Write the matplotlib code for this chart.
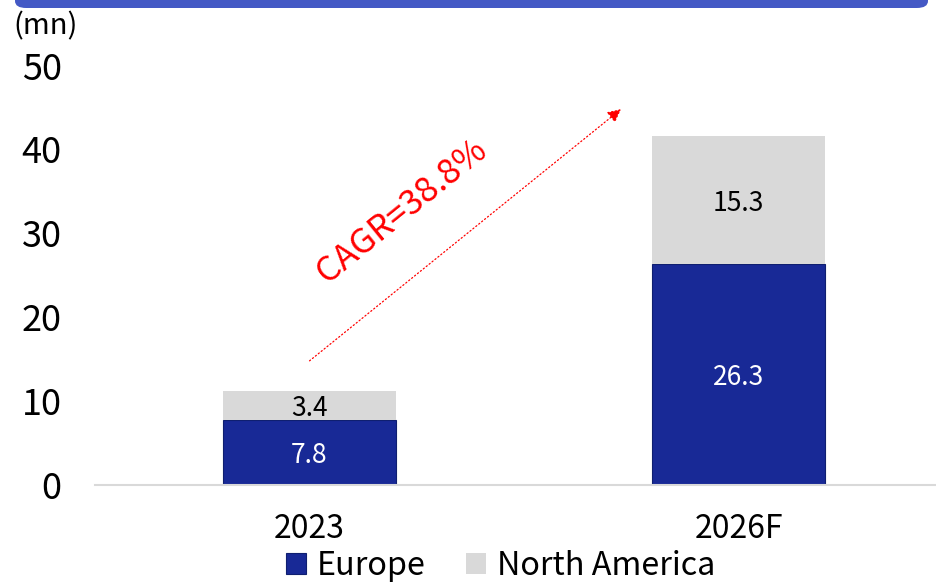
import matplotlib
matplotlib.use("Agg")
import matplotlib.pyplot as plt
from matplotlib.patches import Patch, FancyBboxPatch
import numpy as np

plt.rcParams['font.family'] = ['Noto Sans CJK TC', 'DejaVu Sans']

categories = ["2023", "2026F"]
europe = [7.8, 26.3]
north_america = [3.4, 15.3]
yticks = [0, 10, 20, 30, 40, 50]
cagr_label = "CAGR=38.8%"
unit_label = "(mn)"
series_names = ["Europe", "North America"]

W, H = 936, 583
fig = plt.figure(figsize=(W / 100, H / 100), dpi=100)
ax = fig.add_axes([95 / W, 98 / H, 841 / W, 419.5 / H])

x = np.arange(len(categories))
bw = 0.403
c_eu = "#182996"
c_na = "#D9D9D9"
ax.bar(x, europe, bw, color=c_eu, edgecolor="#0f1f70", linewidth=0.8, zorder=3)
ax.bar(x, north_america, bw, bottom=europe, color=c_na, linewidth=0, zorder=3)

for xi, e, n in zip(x, europe, north_america):
    ax.text(xi, e / 2, f"{e:.1f}", ha="center", va="center_baseline", color="white", fontsize=19, zorder=4)
    ax.text(xi, e + n / 2, f"{n:.1f}", ha="center", va="center_baseline", color="black", fontsize=19, zorder=4)

ax.set_xlim(-0.5, 1.46)
ax.set_ylim(0, 50)
ax.set_yticks(yticks)
ax.set_yticklabels([str(t) for t in yticks])
ax.set_xticks(x)
ax.set_xticklabels(categories)
ax.tick_params(axis="y", length=0, pad=24, labelsize=26)
ax.tick_params(axis="x", length=0, pad=20, labelsize=23)
for s in ["left", "right", "top"]:
    ax.spines[s].set_visible(False)
ax.spines["bottom"].set_color("#D9D9D9")
ax.spines["bottom"].set_linewidth(1.5)
ax.spines["bottom"].set_zorder(5)

# CAGR arrow
ax.annotate("", xy=(0.726, 44.8), xytext=(0.0, 14.8),
            arrowprops=dict(arrowstyle="-|>,head_length=0.8,head_width=0.4", color="red",
                            linestyle=(0, (1, 2)), linewidth=0.9, shrinkA=0, shrinkB=0))
ax.text(0.216, 32.6, cagr_label, color="red", fontsize=25, rotation=39,
        ha="center", va="center", rotation_mode="anchor")

fig.text(13 / W, 1 - 26 / H, unit_label, fontsize=21, ha="left", va="center")

# top band
band = FancyBboxPatch((15 / W, 1 - 8 / H), 913 / W, 30 / H,
                      boxstyle="round,pad=0,rounding_size=0.012",
                      transform=fig.transFigure, facecolor="#4459C5", edgecolor="none")
fig.patches.append(band)

handles = [Patch(facecolor=c_eu, edgecolor="#0f1f70", linewidth=0.8), Patch(facecolor=c_na)]
fig.legend(handles, series_names, loc="center", bbox_to_anchor=(501 / W, 1 - 566 / H),
           ncol=2, frameon=False, fontsize=23.3, handlelength=0.6, handleheight=0.6,
           handletextpad=0.35, columnspacing=1.25, borderpad=0)

fig.savefig("out.png", dpi=100)
